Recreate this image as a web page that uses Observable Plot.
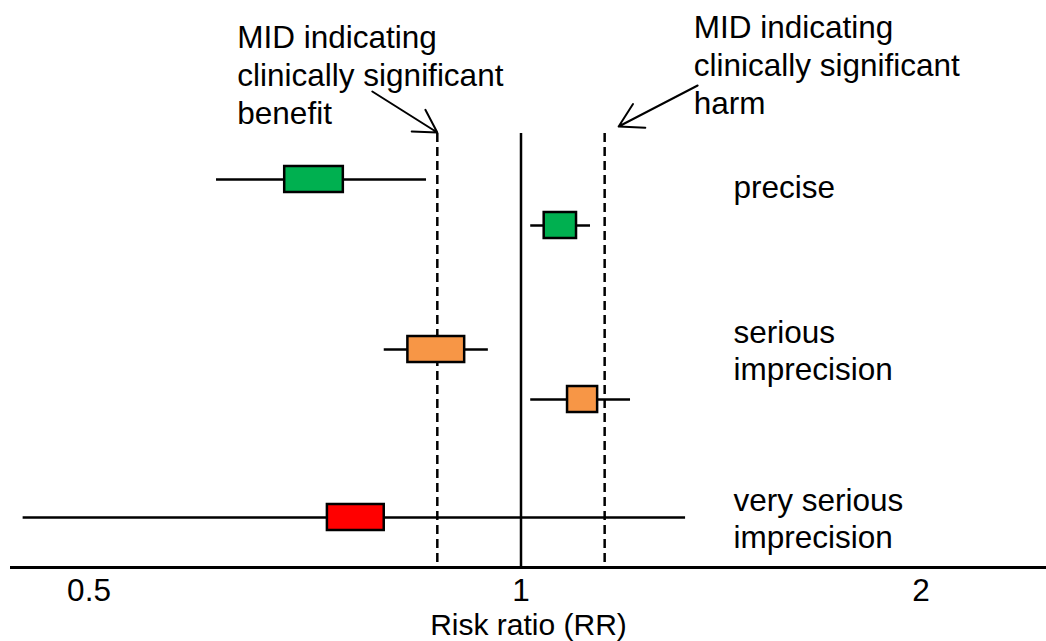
<!DOCTYPE html>
<html>
<head>
<meta charset="utf-8">
<script src="https://cdn.jsdelivr.net/npm/d3@7"></script>
<script src="https://cdn.jsdelivr.net/npm/@observablehq/plot@0.6"></script>
<style>
  html, body { margin: 0; padding: 0; background: #fff; }
  #chart svg { display: block; overflow: visible; }
</style>
</head>
<body>
<div id="chart"></div>
<script>
// ---- data ----
const grade   = ["precise", "precise", "serious", "serious", "very serious"];
const rowPos  = [1, 2, 4.696, 5.783, 8.348];          // study row order / spacing
const ciLow   = [0.590, 1.017, 0.789, 1.017, 0.422];
const ciHigh  = [0.849, 1.128, 0.945, 1.209, 1.330];
const boxLow  = [0.664, 1.041, 0.822, 1.084, 0.715];
const boxHigh = [0.735, 1.101, 0.907, 1.142, 0.789];

const gradeNames  = ["precise", "serious", "very serious"];
const gradeLabels = ["precise", "serious\nimprecision", "very serious\nimprecision"];
const gradeColors = ["#00B050", "#F79646", "#FF0000"];

const noEffect = 1;
const midBenefit = 0.865;
const midHarm = 1.156;
const tickValues = [0.5, 1, 2];
const xTitle = "Risk ratio (RR)";
const benefitText = "MID indicating\nclinically significant\nbenefit";
const harmText = "MID indicating\nclinically significant\nharm";

// ---- build table ----
const studies = grade.map((g, i) => ({
  grade: g, row: rowPos[i], lo: ciLow[i], hi: ciHigh[i], bLo: boxLow[i], bHi: boxHigh[i]
}));
const groupRows = gradeNames.map((g, i) => ({
  label: gradeLabels[i], row: studies.find(s => s.grade === g).row
}));
const singleLine = groupRows.filter(d => !d.label.includes("\n"));
const multiLine = groupRows.filter(d => d.label.includes("\n"));

const W = 1046, H = 641;
const FONT = "'Liberation Sans', Arial, sans-serif";
const FS = 31.5;
const xOpts = {type: "log", domain: [0.5, 2], range: [120.5, 920.5]};
const yOpts = {domain: [0, 9.435], range: [133, 567]};
const X = Plot.scale({x: xOpts});
const Y = Plot.scale({y: yOpts});
const boxHalf = 13 / 46;

const arrows = [
  {x1: X.invert(X.apply(midBenefit) - 65), y1: Y.invert(91), x2: midBenefit, y2: Y.invert(132)},
  {x1: X.invert(X.apply(midHarm) + 93), y1: Y.invert(85), x2: X.invert(X.apply(midHarm) + 14), y2: Y.invert(126)}
];

const labelStyle = {
  y: "row", text: "label", frameAnchor: "left", dx: 723,
  textAnchor: "start", lineAnchor: "middle", lineHeight: 1.194,
  fontSize: FS, fill: "#000"
};
const tickStyle = {tickSize: 0, tickPadding: 11, fontSize: FS,
                   tickFormat: d => String(d), label: null, anchor: "bottom"};

const plot = Plot.plot({
  width: W,
  height: H,
  marginTop: 133,
  marginBottom: 74,
  marginLeft: 10,
  marginRight: 0,
  style: {fontFamily: FONT, fontSize: FS + "px", color: "#000", background: "#fff"},
  x: {...xOpts, axis: null},
  y: {...yOpts, axis: null},
  color: {domain: gradeNames, range: gradeColors},
  marks: [
    // axis baseline
    Plot.ruleY([yOpts.domain[1]], {stroke: "#000", strokeWidth: 3}),
    // reference lines
    Plot.ruleX([noEffect], {stroke: "#000", strokeWidth: 2.5}),
    Plot.ruleX([midBenefit, midHarm], {stroke: "#000", strokeWidth: 2.5, strokeDasharray: "9,5"}),
    // confidence intervals
    Plot.ruleY(studies, {y: "row", x1: "lo", x2: "hi", stroke: "#000", strokeWidth: 2.5}),
    // point-estimate boxes
    Plot.rect(studies, {
      x1: "bLo", x2: "bHi",
      y1: d => d.row - boxHalf, y2: d => d.row + boxHalf,
      fill: "grade", stroke: "#000", strokeWidth: 2.5
    }),
    // group labels
    Plot.text(singleLine, {...labelStyle, dy: 6}),
    Plot.text(multiLine, labelStyle),
    // x axis tick labels
    Plot.axisX({...tickStyle, ticks: tickValues.filter(t => t < 1), dx: -32}),
    Plot.axisX({...tickStyle, ticks: tickValues.filter(t => t >= 1)}),
    // x axis title
    Plot.text([xTitle], {frameAnchor: "bottom", dy: 67, lineAnchor: "bottom",
                         textAnchor: "middle", fontSize: 30, fill: "#000"}),
    // annotations
    Plot.text([midBenefit], {x: d => d, frameAnchor: "top", dx: -200, dy: -10,
      textAnchor: "start", lineAnchor: "bottom", lineHeight: 1.194,
      text: () => benefitText, fontSize: FS, fill: "#000"}),
    Plot.text([midHarm], {x: d => d, frameAnchor: "top", dx: 89, dy: -20,
      textAnchor: "start", lineAnchor: "bottom", lineHeight: 1.194,
      text: () => harmText, fontSize: FS, fill: "#000"}),
    Plot.arrow(arrows, {x1: "x1", y1: "y1", x2: "x2", y2: "y2",
      stroke: "#000", strokeWidth: 2, headLength: 20, headAngle: 60})
  ]
});
document.getElementById("chart").appendChild(plot);
</script>
</body>
</html>
